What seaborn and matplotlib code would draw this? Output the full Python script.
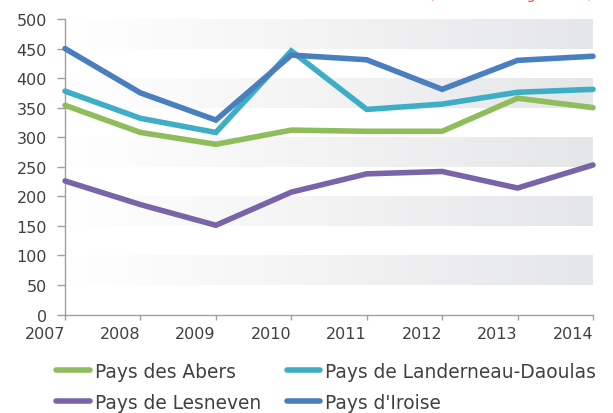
import numpy as np
import pandas as pd
import matplotlib
matplotlib.use("Agg")
import matplotlib.pyplot as plt
from matplotlib.colors import LinearSegmentedColormap
import seaborn as sns

years = [2007, 2008, 2009, 2010, 2011, 2012, 2013, 2014]
abers = [354, 308, 288, 312, 310, 310, 366, 350]
landerneau = [378, 332, 308, 446, 347, 356, 376, 381]
lesneven = [226, 186, 151, 207, 238, 242, 214, 253]
iroise = [450, 375, 329, 439, 431, 381, 430, 437]

series_names = ["Pays des Abers", "Pays de Landerneau-Daoulas",
                "Pays de Lesneven", "Pays d'Iroise"]
series_values = [abers, landerneau, lesneven, iroise]
colors = ["#8fbd5b", "#3eadc6", "#7a64a9", "#4a7fbf"]

y_ticks = [0, 50, 100, 150, 200, 250, 300, 350, 400, 450, 500]
bands = [(50, 100), (150, 200), (250, 300), (350, 400), (450, 500)]

df = pd.DataFrame({
    "annee": years * len(series_names),
    "valeur": sum(series_values, []),
    "territoire": [n for n in series_names for _ in years],
})

sns.set_theme(style="white")
plt.rcParams["font.family"] = ["DejaVu Sans"]
text_color = "#404040"

fig = plt.figure(figsize=(6.13, 4.14), dpi=100)
ax = fig.add_axes([65 / 613, 1 - 315.5 / 414, 528 / 613, 295.5 / 414])

# gradient background bands
band_cmap = LinearSegmentedColormap.from_list("band", ["#ffffff", "#f3f3f4", "#e5e6e8"])
grad = np.linspace(0, 1, 256).reshape(1, -1)
for lo, hi in bands:
    ax.imshow(grad, cmap=band_cmap, aspect="auto",
              extent=[years[0], years[-1], lo, hi], zorder=0, interpolation="bilinear")

sns.lineplot(data=df, x="annee", y="valeur", hue="territoire",
             palette=dict(zip(series_names, colors)), hue_order=series_names,
             linewidth=4.0, ax=ax, legend=False, zorder=3)
for line in ax.get_lines():
    line.set_solid_capstyle("round")
    line.set_solid_joinstyle("miter")
    line.set_clip_on(False)

ax.set_xlim(years[0], years[-1])
ax.set_ylim(0, 500)
ax.set_xticks(years)
ax.set_yticks(y_ticks)
ax.set_xlabel("")
ax.set_ylabel("")
for s in ["top", "right"]:
    ax.spines[s].set_visible(False)
for s in ["left", "bottom"]:
    ax.spines[s].set_color("#a0a0a0")
    ax.spines[s].set_linewidth(1.0)
ax.tick_params(axis="y", direction="out", length=6, width=1, color="#a0a0a0",
               labelsize=11.5, labelcolor=text_color, pad=7, left=True)
ax.tick_params(axis="x", direction="out", length=3.5, width=1, color="#a0a0a0",
               labelsize=11.5, labelcolor=text_color, pad=5, bottom=True)
for lbl in ax.get_xticklabels():
    lbl.set_horizontalalignment("right")

# legend laid out row by row
order = [0, 2, 1, 3]
handles = [plt.Line2D([], [], color=colors[i], lw=4.0, solid_capstyle="round") for i in order]
labels = [series_names[i] for i in order]
fig.legend(handles, labels, loc="upper left", bbox_to_anchor=(56 / 613, 1 - 363 / 414),
           ncol=2, frameon=False, fontsize=13.4, labelcolor=text_color,
           handlelength=1.8, handletextpad=0.27, columnspacing=1.4, labelspacing=0.64,
           borderaxespad=0, borderpad=0)

fig.text(593 / 613, 1 + 1.5 / 414, "(nombre de logements)", color="#e8453c",
         fontsize=10, ha="right", va="baseline")

fig.savefig("out.png", dpi=100)
